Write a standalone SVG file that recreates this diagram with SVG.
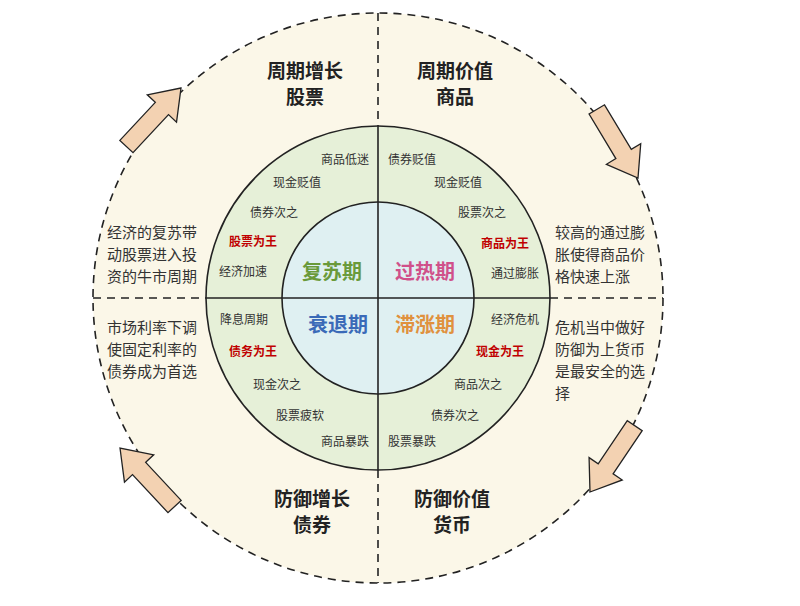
<svg xmlns="http://www.w3.org/2000/svg" width="800" height="606" viewBox="0 0 800 606">
<style>
text{font-family:"Noto Sans CJK SC","Noto Sans",sans-serif;fill:#333}
.t{font-size:19px;font-weight:bold;text-anchor:middle;fill:#222}
.d{font-size:15px}
.s{font-size:12px;text-anchor:middle}
.r{fill:#c00000;font-weight:bold}
.p{font-size:20px;font-weight:bold;text-anchor:middle}
.ln{stroke:#222;stroke-width:1.6;fill:none}
.dash{stroke-dasharray:8,6}
.ar{fill:#f3d2b2;stroke:#222;stroke-width:1.3}
</style>
<defs><polygon id="arw" points="0,0 -28,-20 -28,-9 -80,-9 -80,9 -28,9 -28,20"/></defs>
<rect width="800" height="606" fill="#fff"/>
<g id="rings">
<circle cx="378" cy="298" r="285" fill="#fbf7e8" class="ln dash" style="fill:#fbf7e8"/>
<circle cx="378" cy="298" r="172" class="ln" style="fill:#e6f0d8"/>
<circle cx="378" cy="298" r="96" class="ln" style="fill:#dff0f2"/>
</g>
<g id="connectors">
<line x1="93" y1="298" x2="206" y2="298" class="ln dash"/>
<line x1="550" y1="298" x2="663" y2="298" class="ln dash"/>
<line x1="378" y1="13" x2="378" y2="126" class="ln dash"/>
<line x1="378" y1="470" x2="378" y2="583" class="ln dash"/>
<line x1="206" y1="298" x2="550" y2="298" class="ln"/>
<line x1="378" y1="126" x2="378" y2="470" class="ln"/>
<use href="#arw" class="ar" transform="translate(181,88) rotate(-47)"/>
<use href="#arw" class="ar" transform="translate(638,178) rotate(59)"/>
<use href="#arw" class="ar" transform="translate(590,492) rotate(124)"/>
<use href="#arw" class="ar" transform="translate(120,448) rotate(227)"/>
</g>
<g id="quadrant-titles">
<text class="t" x="305" y="78">周期增长</text><text class="t" x="305" y="104">股票</text>
<text class="t" x="455" y="78">周期价值</text><text class="t" x="455" y="104">商品</text>
<text class="t" x="312" y="506">防御增长</text><text class="t" x="312" y="532">债券</text>
<text class="t" x="452" y="506">防御价值</text><text class="t" x="452" y="532">货币</text>
</g>
<g id="descriptions">
<text class="d" x="107" y="238">经济的复苏带</text><text class="d" x="107" y="260">动股票进入投</text><text class="d" x="107" y="282">资的牛市周期</text>
<text class="d" x="107" y="333">市场利率下调</text><text class="d" x="107" y="355">使固定利率的</text><text class="d" x="107" y="377">债券成为首选</text>
<text class="d" x="555" y="238">较高的通过膨</text><text class="d" x="555" y="260">胀使得商品价</text><text class="d" x="555" y="282">格快速上涨</text>
<text class="d" x="555" y="333">危机当中做好</text><text class="d" x="555" y="355">防御为上货币</text><text class="d" x="555" y="377">是最安全的选</text><text class="d" x="555" y="399">择</text>
</g>
<g id="ring-labels">
<text class="s" x="345" y="164">商品低迷</text><text class="s" x="297" y="187">现金贬值</text><text class="s" x="274" y="217">债券次之</text><text class="s r" x="253" y="246">股票为王</text><text class="s" x="243" y="276">经济加速</text>
<text class="s" x="412" y="164">债券贬值</text><text class="s" x="458" y="187">现金贬值</text><text class="s" x="482" y="217">股票次之</text><text class="s r" x="505" y="248">商品为王</text><text class="s" x="515" y="278">通过膨胀</text>
<text class="s" x="244" y="324">降息周期</text><text class="s r" x="253" y="356">债务为王</text><text class="s" x="277" y="389">现金次之</text><text class="s" x="300" y="420">股票疲软</text><text class="s" x="345" y="446">商品暴跌</text>
<text class="s" x="515" y="324">经济危机</text><text class="s r" x="500" y="356">现金为王</text><text class="s" x="478" y="389">商品次之</text><text class="s" x="455" y="420">债券次之</text><text class="s" x="412" y="446">股票暴跌</text>
</g>
<g id="phases">
<text class="p" x="332" y="279" style="fill:#6a9a3a">复苏期</text>
<text class="p" x="425" y="279" style="fill:#d0508a">过热期</text>
<text class="p" x="338" y="332" style="fill:#3a6ab8">衰退期</text>
<text class="p" x="425" y="332" style="fill:#e0913e">滞涨期</text>
</g>
</svg>
